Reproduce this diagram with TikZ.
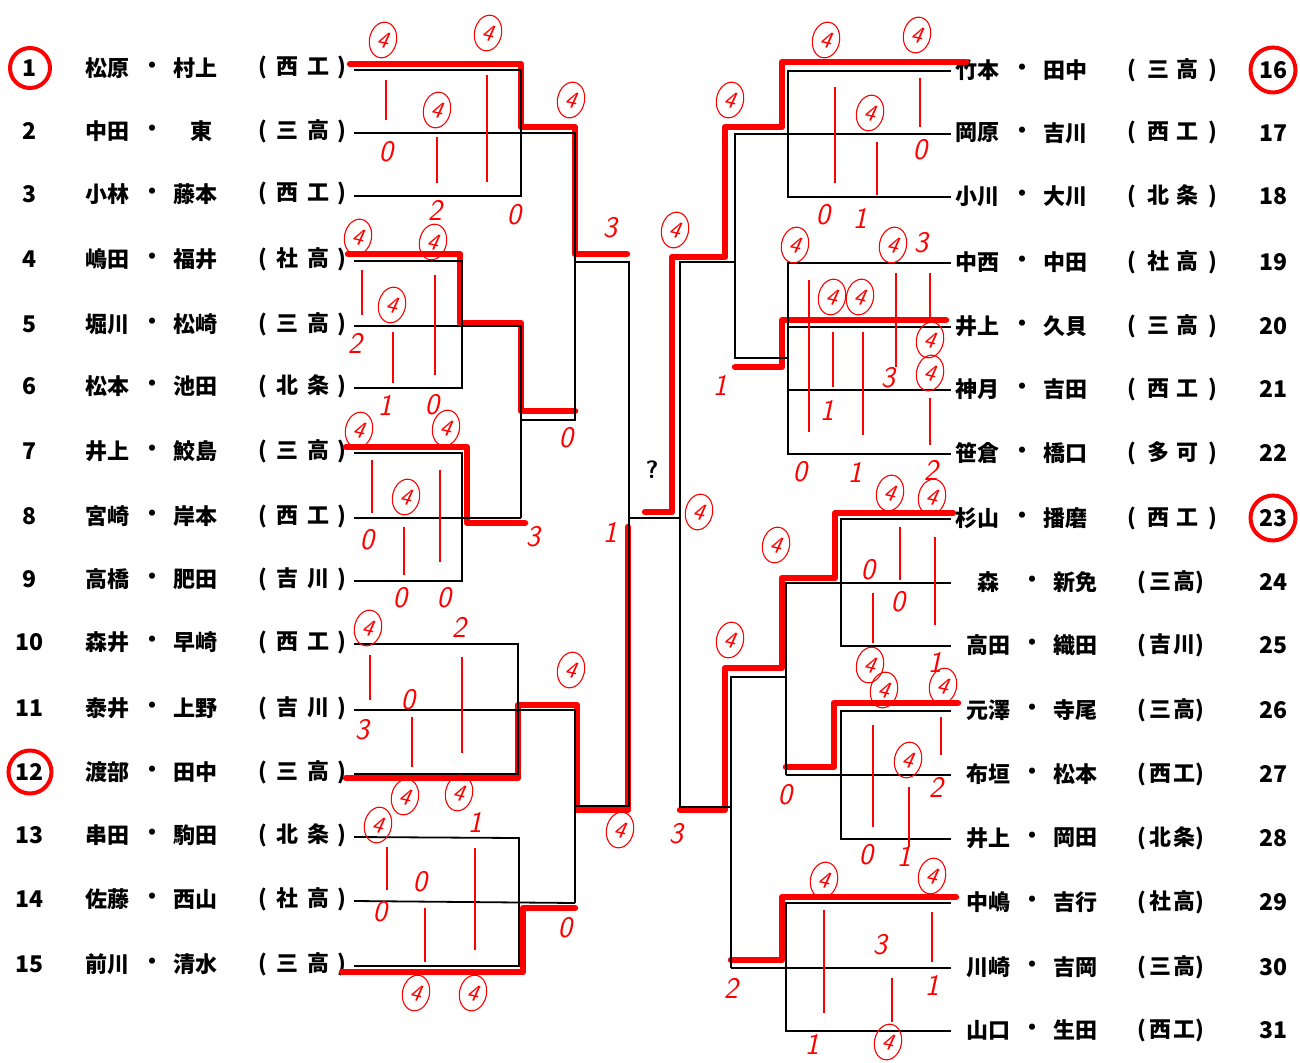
\documentclass[tikz,border=0pt]{standalone}
\usepackage{fontspec}
\newfontfamily\jp{Noto Sans CJK JP}
\usetikzlibrary{shapes.geometric}

\begin{document}
\begin{tikzpicture}[
    x=1pt,y=-1pt,
    every node/.style={inner sep=0pt},
    tm/.style={font=\jp\bfseries\fontsize{22}{22}\selectfont},
    num/.style={font=\jp\bfseries\fontsize{23}{23}\selectfont},
    bk/.style={line width=1.8pt},
    hl/.style={red,line width=6.5pt,line cap=round,line join=round},
    tk/.style={red,line width=1.3pt},
    sc/.style={text=red,font=\sffamily\itshape\fontsize{30}{30}\selectfont},
    win/.style={ellipse,draw=red,line width=1.1pt,minimum width=27pt,minimum height=36pt,
                text=red,font=\sffamily\itshape\fontsize{24}{24}\selectfont,rotate=-12},
    seed/.style={circle,draw=red,line width=4pt,minimum size=40pt}
  ]
  \useasboundingbox (0,0) rectangle (1300,1062);

  %% left half of the draw
  \foreach \i/\y/\na/\nb/\sa/\sb in {1/68/松原/村上/西/工, 2/131/中田/{\hspace{12pt}東}/三/高,
      3/194/小林/藤本/西/工, 4/259/嶋田/福井/社/高, 5/324/堀川/松崎/三/高,
      6/386/松本/池田/北/条, 7/451/井上/鮫島/三/高, 8/516/宮崎/岸本/西/工,
      9/579/高橋/肥田/吉/川, 10/642/森井/早崎/西/工, 11/708/泰井/上野/吉/川,
      12/772/渡部/田中/三/高, 13/835/串田/駒田/北/条, 14/899/佐藤/西山/社/高,
      15/964/前川/清水/三/高}{
    \node[num] (n\i) at (30,\y) {\i};
    \node[tm] (a\i) at (107,\y) {\na};
    \node[tm] (d\i) at (152,\y) {・};
    \node[tm] (b\i) at (195,\y) {\nb};
    \node[tm,anchor=west] (s\i) at (258,\y) {(\hspace{10pt}\sa\hspace{9pt}\sb\hspace{8pt})};
    \coordinate (l\i) at (354,\y+2);
  }

  %% right half of the draw
  \foreach \i/\y/\na/\nb/\sa/\sb in {16/70/竹本/田中/三/高, 17/133/岡原/吉川/西/工,
      18/196/小川/大川/北/条, 19/262/中西/中田/社/高, 20/326/井上/久貝/三/高,
      21/389/神月/吉田/西/工, 22/453/笹倉/橋口/多/可, 23/518/杉山/播磨/西/工}{
    \node[tm] (a\i) at (977,\y) {\na};
    \node[tm] (d\i) at (1022,\y) {・};
    \node[tm] (b\i) at (1065,\y) {\nb};
    \node[tm,anchor=west] (s\i) at (1127,\y) {(\hspace{11pt}\sa\hspace{7pt}\sb\hspace{10pt})};
    \node[num] (n\i) at (1273,\y) {\i};
    \coordinate (r\i) at (951,\y+1);
  }
  \foreach \i/\y/\na/\nb/\sa/\sb in {24/582/森/新免/三/高, 25/645/高田/織田/吉/川,
      26/710/元澤/寺尾/三/高, 27/774/布垣/松本/西/工, 28/838/井上/岡田/北/条,
      29/902/中嶋/吉行/社/高, 30/967/川崎/吉岡/三/高, 31/1030/山口/生田/西/工}{
    \node[tm] (a\i) at (988,\y) {\na};
    \node[tm] (d\i) at (1032,\y) {・};
    \node[tm] (b\i) at (1075,\y) {\nb};
    \node[tm,anchor=west] (s\i) at (1137,\y) {(\hspace{4pt}\sa\hspace{1pt}\sb)};
    \node[num] (n\i) at (1273,\y) {\i};
    \coordinate (r\i) at (951,\y+1);
  }

  %% seeded pairs
  \node[seed] (c1) at (n1) {};
  \node[seed,minimum size=43pt] (c12) at (n12) {};
  \node[seed,minimum size=45pt] (c16) at (n16) {};
  \node[seed,minimum size=45pt] (c23) at (n23) {};

  %% winners (red)
  \draw[hl] (350,64) -- (521,64) -- (521,127) -- (575,127) -- (575,254) -- (627,254);
  \draw[hl] (348,254) -- (460,254) -- (460,323) -- (521,323) -- (521,411) -- (575,411);
  \draw[hl] (346,447) -- (467,447) -- (467,523) -- (525,523);
  \draw[hl] (346,778) -- (518,778) -- (518,705) -- (577,705) -- (577,810) -- (628,810) -- (628,527);
  \draw[hl] (342,972) -- (523,972) -- (523,908) -- (575,908);
  \draw[hl] (966,62) -- (782,62) -- (782,127) -- (725,127) -- (725,257) -- (672,257) -- (672,512) -- (645,512);
  \draw[hl] (946,320) -- (782,320) -- (782,367) -- (735,367);
  \draw[hl] (953,513) -- (835,513) -- (835,578) -- (782,578) -- (782,668) -- (725,668) -- (725,810) -- (680,810);
  \draw[hl] (958,703) -- (834,703) -- (834,767) -- (786,767);
  \draw[hl] (956,897) -- (782,897) -- (782,960) -- (731,960);

  %% bracket
  \draw[bk] (l1) -- (521,70) |- (l3);
  \draw[bk] (l2) -- (575,133) -- (575,420) -- (521,420);
  \draw[bk] (l4) -- (462,261) |- (l6);
  \draw[bk] (l5) -- (521,326) -- (521,518);
  \draw[bk] (l7) -- (462,453) |- (l9);
  \draw[bk] (l8) -- (521,518);
  \draw[bk] (575,262) -- (629,262) -- (629,806) -- (575,806);
  \draw[bk] (629,518) -- (680,518);
  \draw[bk] (l10) -- (518,644) |- (l12);
  \draw[bk] (l11) -- (575,710) -- (575,903);
  \draw[bk] (l13) -- (519,838) |- (l15);
  \draw[bk] (l14) -- (575,903);
  \draw[bk] (r16) -- (788,71) |- (r18);
  \draw[bk] (r17) -- (735,134) -- (735,358) -- (788,358);
  \draw[bk] (735,262) -- (680,262) -- (680,807) -- (731,807);
  \draw[bk] (r19) -- (788,263) |- (r22);
  \draw[bk] (r20) -- (788,327);
  \draw[bk] (r21) -- (788,390);
  \draw[bk] (r23) -- (841,519) |- (r25);
  \draw[bk] (r24) -- (786,583) -- (786,775);
  \draw[bk] (r27) -- (786,775);
  \draw[bk] (r26) -- (841,711) |- (r28);
  \draw[bk] (786,677) -- (731,677) -- (731,968);
  \draw[bk] (r30) -- (731,968);
  \draw[bk] (r29) -- (786,903) |- (r31);
  \node[font=\sffamily\bfseries\fontsize{25}{25}\selectfont] (qm) at (652,470) {?};

  %% game tallies
  \foreach \x/\ya/\yb in {386/80/120, 437/137/183, 487/75/182, 362/270/315, 435/275/375,
      393/332/383, 372/460/513, 440/470/562, 404/527/575, 370/655/700, 462/657/753,
      412/717/767, 387/847/890, 475/848/950, 425/908/962,
      835/87/183, 877/142/195, 920/78/127, 809/280/432, 833/332/387, 863/332/435,
      896/273/367, 930/273/317, 930/398/445, 900/527/580, 935/537/625, 873/593/643,
      873/725/827, 909/787/847, 941/717/755, 824/910/1013, 932/912/962, 892/978/1022}
    \draw[tk] (\x,\ya) -- (\x,\yb);
  \foreach \x/\y [count=\k] in {383/40, 488/33, 437/110, 571/100, 358/237, 433/242,
      392/305, 359/430, 446/428, 406/497, 368/628, 571/670, 405/797, 459/793,
      378/825, 416/993, 473/993, 620/830, 699/512,
      826/40, 917/35, 730/100, 870/113, 675/230, 795/245, 893/245, 832/297, 860/297,
      930/340, 930/373, 890/493, 932/497, 776/545, 870/665, 884/690, 943/686, 730/640,
      908/760, 824/880, 932/876, 888/1042}
    \node[win] (w\k) at (\x,\y) {4};
  \foreach \x/\y/\v [count=\k] in {386/152/0, 435/210/2, 514/215/0, 610/228/3,
      355/343/2, 385/405/1, 432/405/0, 566/438/0, 367/540/0, 400/598/0, 444/598/0,
      533/537/3, 610/532/1, 459/627/2, 408/700/0, 362/730/3, 475/822/1, 420/882/0,
      380/912/0, 565/928/0, 676/834/3,
      920/150/0, 823/215/0, 860/218/1, 921/243/3, 888/378/3, 827/410/1, 720/385/1,
      800/472/0, 855/472/1, 931/470/2, 868/570/0, 898/602/0, 935/662/1, 785/795/0,
      936/787/2, 866/855/0, 904/856/1, 880/945/3, 932/985/1, 731/988/2, 812/1044/1}
    \node[sc] (v\k) at (\x,\y) {\v};
\end{tikzpicture}
\end{document}
